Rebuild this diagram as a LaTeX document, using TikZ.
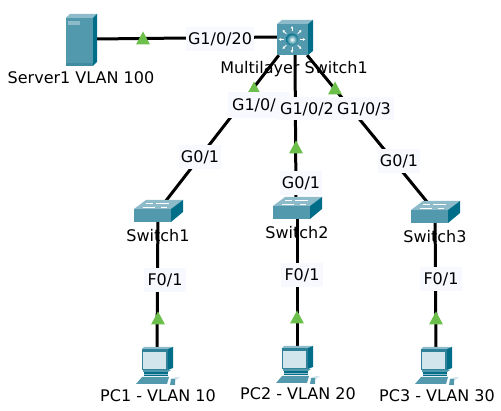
\documentclass[tikz,border=0pt]{standalone}
\usepackage{fontspec}
\setmainfont{DejaVu Sans}
\usetikzlibrary{arrows.meta}
\definecolor{icofront}{HTML}{5299AE}
\definecolor{icotop}{HTML}{8DBBCA}
\definecolor{icoside}{HTML}{006E88}
\definecolor{icodark}{HTML}{2E8199}
\definecolor{icoscreen}{HTML}{D3E5EC}
\definecolor{linkgreen}{HTML}{6CBF4B}
\definecolor{labelbg}{HTML}{F8F8FF}
\tikzset{
  link/.style={line width=3pt,black},
  flag/.style={fill=linkgreen,draw=none},
  portlabel/.style={fill=labelbg,inner sep=0pt,minimum width=#1,minimum height=24pt,font=\fontsize{16}{18}\selectfont,text=black},
  portlabel/.default=42pt,
  namelabel/.style={inner sep=0pt,font=\fontsize{16}{18}\selectfont,text=black},
  anchorpt/.style={inner sep=0pt,minimum size=0pt},
  pics/serverico/.style={code={
    \fill[icofront] (-14,-21) rectangle (13,27);
    \fill[icotop] (-14,-21) -- (-10,-25) -- (17,-25) -- (13,-21) -- cycle;
    \fill[icoside] (13,-21) -- (17,-25) -- (17,23) -- (13,27) -- cycle;
    \fill[icotop] (-12,-18) rectangle (0,-14);
    \fill[icodark,opacity=.5] (-14,24) rectangle (13,27);
  }},
  pics/mlsico/.style={code={
    \fill[icofront] (-16,-14) rectangle (15,17);
    \fill[icotop] (-16,-14) -- (-11,-18) -- (20,-18) -- (15,-14) -- cycle;
    \fill[icoside] (15,-14) -- (20,-18) -- (20,13) -- (15,17) -- cycle;
    \shade[inner color=white,outer color=icoside] (-1,1.5) circle (6);
    \foreach \a in {0,45,...,315}
      \draw[white,line width=.8pt,-{Latex[length=2.5pt,width=3pt]}] (\a:8)++(-1,1.5) -- ++(\a:5.5);
  }},
  pics/switchico/.style={code={
    \fill[icofront] (-24,0) rectangle (13,13);
    \fill[icotop] (-24,0) -- (-12,-9) -- (25,-9) -- (13,0) -- cycle;
    \fill[icoside] (13,0) -- (25,-9) -- (25,3) -- (13,13) -- cycle;
    \draw[white,line width=.7pt] (-15,-2) -- (-3,-2) (-2,-6) -- (11,-6);
    \draw[white,line width=.7pt] (-12,-6) -- (-5,-6) (3,-2) -- (9,-2);
  }},
  pics/pcico/.style={code={
    \fill[icodark] (-15,-18) rectangle (11,3);
    \fill[icotop] (-15,-18) -- (-13,-20) -- (16,-20) -- (11,-18) -- cycle;
    \fill[icoside] (11,-18) -- (16,-20) -- (16,1) -- (11,3) -- cycle;
    \fill[icoscreen] (-14,-15) rectangle (9,2);
    \fill[icofront] (-14,3) -- (14,3) -- (11,5) -- (-14,5) -- cycle;
    \fill[icoside] (-13,5) rectangle (11,9);
    \fill[icotop] (-13,7) rectangle (11,8);
    \fill[icofront] (-15,10) -- (12,10) -- (10,17) -- (-21,17) -- cycle;
    \fill[icoscreen] (14,12) -- (19,10) -- (23,10) -- (18,14) -- cycle;
    \fill[icofront] (14,12) -- (18,12) -- (18,18) -- (13,18) -- cycle;
    \draw[white,line width=.6pt] (16,9) -- (22,9);
  }},
}
\begin{document}
\begin{tikzpicture}[x=1pt,y=-1pt]
\useasboundingbox (0,0) rectangle (501,411);
% anchor points of the devices
\node[anchorpt] (server) at (96,39) {};
\node[anchorpt] (mls) at (293,38) {};
\node[anchorpt] (mlsL) at (279,55) {};
\node[anchorpt] (mlsW) at (278,37) {};
\node[anchorpt] (mlsB) at (295,55) {};
\node[anchorpt] (mlsR) at (307,55) {};
\node[anchorpt] (sw1) at (158,209) {};
\node[anchorpt] (sw1t) at (165,202) {};
\node[anchorpt] (sw2) at (297,206) {};
\node[anchorpt] (sw2t) at (296,199) {};
\node[anchorpt] (sw3) at (435,210) {};
\node[anchorpt] (sw3t) at (428,203) {};
\node[anchorpt] (pc1) at (157,348) {};
\node[anchorpt] (pc2) at (297,347) {};
\node[anchorpt] (pc3) at (436,348) {};
% connectors
\draw[link] (server) -- (mlsW);
\draw[link] (mlsL) -- (sw1t);
\draw[link] (mlsB) -- (sw2t);
\draw[link] (mlsR) -- (sw3t);
\draw[link] (sw1) -- (pc1);
\draw[link] (sw2) -- (pc2);
\draw[link] (sw3) -- (pc3);
% link state triangles
\foreach \x/\y in {143/38,254/88,335/88,296/147,158/318,297/317,436/318}
  \fill[flag] (\x,\y-6.5) -- (\x+7,\y+6.5) -- (\x-7,\y+6.5) -- cycle;
% port labels
\node[portlabel=68pt] (p20) at (220,39) {G1/0/20};
\node[portlabel=62pt,minimum height=26pt] (p1) at (259,105) {G1/0/1};
\node[portlabel=60pt,minimum height=23pt] (p3) at (364,109) {G1/0/3};
\node[portlabel=60pt,minimum height=23pt] (p2) at (307,109) {G1/0/2};
\node[portlabel] (g1) at (200,157) {G0/1};
\node[portlabel] (g2) at (301,183) {G0/1};
\node[portlabel] (g3) at (399,161) {G0/1};
\node[portlabel] (f1) at (165,280) {F0/1};
\node[portlabel] (f2) at (302,275) {F0/1};
\node[portlabel] (f3) at (441,279) {F0/1};
% device icons
\pic at (80,39) {serverico};
\pic at (293,38) {mlsico};
\pic at (158,209) {switchico};
\pic at (297,206) {switchico};
\pic at (435,210) {switchico};
\pic at (157,367) {pcico};
\pic at (297,366) {pcico};
\pic at (436,367) {pcico};
% device names
\node[namelabel] (nserver) at (81,78) {Server1 VLAN 100};
\node[namelabel] (nmls) at (294,69) {Multilayer Switch1};
\node[namelabel] (ns1) at (158,236) {Switch1};
\node[namelabel] (ns2) at (297,233) {Switch2};
\node[namelabel] (ns3) at (435,237) {Switch3};
\node[namelabel] (npc1) at (158,396) {PC1 - VLAN 10};
\node[namelabel] (npc2) at (298,394) {PC2 - VLAN 20};
\node[namelabel] (npc3) at (437,396) {PC3 - VLAN 30};
\end{tikzpicture}
\end{document}
